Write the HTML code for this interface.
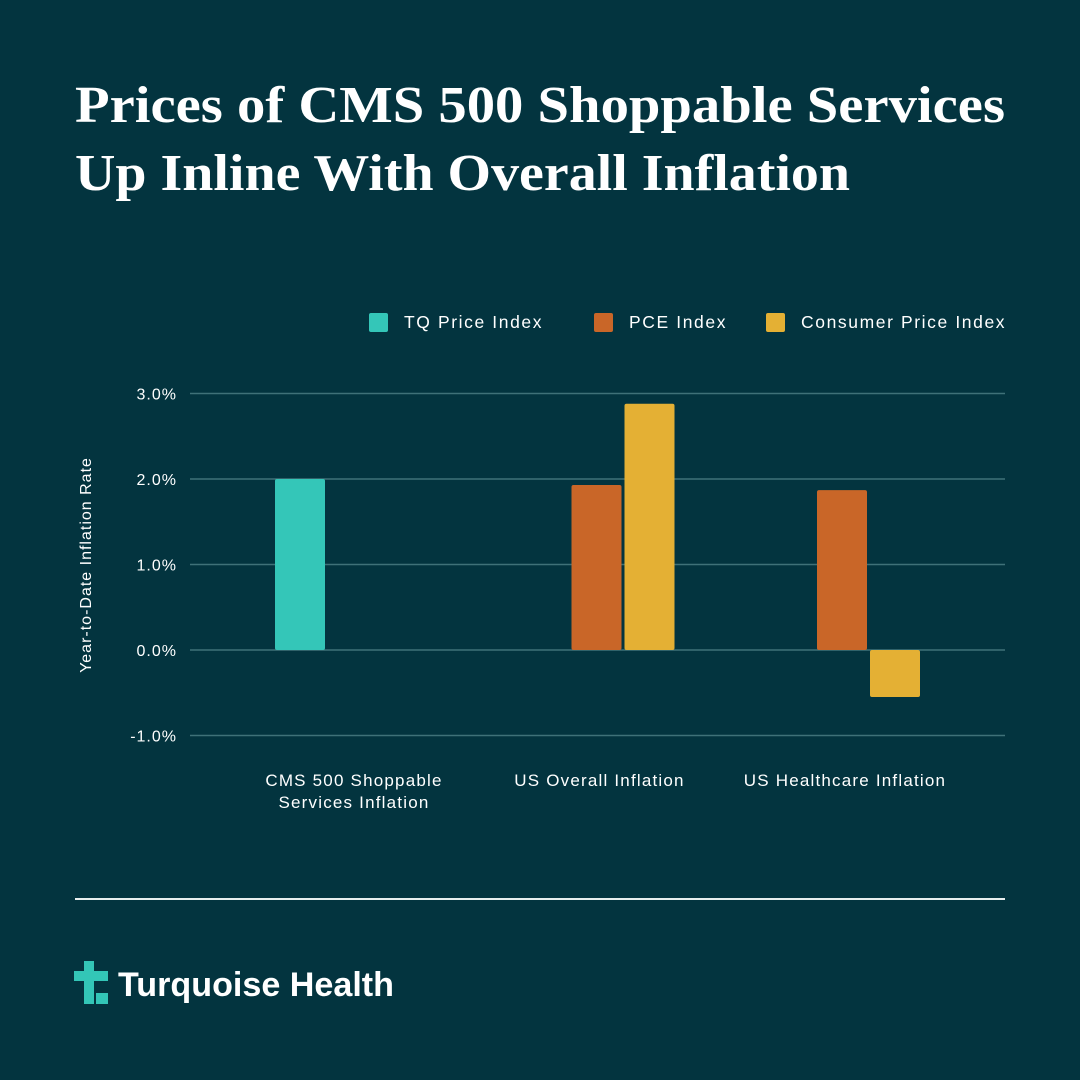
<!DOCTYPE html>
<html><head><meta charset="utf-8"><style>
html,body{margin:0;padding:0;background:#03343f;}
svg{display:block;font-family:"Liberation Sans",sans-serif;}
</style></head><body>
<svg id="chart" width="1080" height="1080" viewBox="0 0 1080 1080">
<rect width="1080" height="1080" fill="#03343f"/>
<text x="75" y="122" font-family="Liberation Serif, serif" font-weight="bold" font-size="52" fill="#fff" textLength="930" lengthAdjust="spacingAndGlyphs">Prices of CMS 500 Shoppable Services</text>
<text x="75" y="190" font-family="Liberation Serif, serif" font-weight="bold" font-size="52" fill="#fff" textLength="775" lengthAdjust="spacingAndGlyphs">Up Inline With Overall Inflation</text>
<g id="legend"></g>
<g id="grid"></g>
<g id="bars"></g>
<g id="xlabels"></g>
<text transform="translate(91,565) rotate(-90)" text-anchor="middle" font-size="16" letter-spacing="1" fill="#fff">Year-to-Date Inflation Rate</text>
<line x1="75" y1="899" x2="1005" y2="899" stroke="#e8eeee" stroke-width="2"/>
<g>
<rect x="84" y="961" width="10" height="43" fill="#33c6b7"/>
<rect x="74" y="971" width="34" height="10" fill="#33c6b7"/>
<rect x="96" y="993" width="12" height="11" fill="#33c6b7"/>
<text x="118" y="996" font-size="34" font-weight="bold" fill="#fff" textLength="276" lengthAdjust="spacingAndGlyphs">Turquoise Health</text>
</g>
</svg>
<script>
const categories = ["CMS 500 Shoppable|Services Inflation", "US Overall Inflation", "US Healthcare Inflation"];
const seriesNames = ["TQ Price Index", "PCE Index", "Consumer Price Index"];
const tqValues = [2.0, null, null];
const pceValues = [null, 1.93, 1.87];
const cpiValues = [null, 2.88, -0.55];
const yTicks = [3, 2, 1, 0, -1];
const yTickLabels = ["3.0%", "2.0%", "1.0%", "0.0%", "-1.0%"];

const NS = "http://www.w3.org/2000/svg";
const colors = ["#34c6b8", "#c96628", "#e4b034"];
function y(v){ return 650 - v * 85.5; }
function bandCenter(i){ return 354 + i * 245.5; }
const slotOffset = [-79, -28, 25];
function mk(tag, attrs, parent){ const e=document.createElementNS(NS,tag); for(const k in attrs) e.setAttribute(k, attrs[k]); parent.appendChild(e); return e; }

const grid = document.getElementById("grid");
yTicks.forEach((t,i)=>{
  const l = mk("line",{x1:190,x2:1005,y1:y(t),y2:y(t),stroke:"#3f7178","stroke-width":1.5},grid);
  
  
  const tx = mk("text",{x:177,y:y(t)+6,"text-anchor":"end","font-size":16,"letter-spacing":"1",fill:"#fff"},grid);
  tx.textContent = yTickLabels[i];
  
  
});

const bars = document.getElementById("bars");
[tqValues, pceValues, cpiValues].forEach((vals, s)=>{
  vals.forEach((v, i)=>{
    if(v === null) return;
    const x = bandCenter(i) + slotOffset[s];
    const top = Math.min(y(v), y(0)), h = Math.abs(y(v) - y(0));
    const r = mk("rect",{x:x,y:top,width:50,height:h,rx:2,fill:colors[s]},bars);
    
    
  });
});

const xl = document.getElementById("xlabels");
categories.forEach((c,i)=>{
  c.split("|").forEach((line,j)=>{
    const t = mk("text",{x:bandCenter(i),y:786+j*22,"text-anchor":"middle","font-size":17,"letter-spacing":"1.2",fill:"#fff"},xl);
    t.textContent = line;
    
    
  });
});

const lg = document.getElementById("legend");
const legendX = [369, 594, 766];
seriesNames.forEach((n,i)=>{
  const r = mk("rect",{x:legendX[i],y:313,width:19,height:19,rx:2,fill:colors[i]},lg);
  
  
  const t = mk("text",{x:legendX[i]+35,y:328,"font-size":17.5,"letter-spacing":"1.6",fill:"#fff"},lg);
  t.textContent = n;
  
  
});
</script>
</body></html>
